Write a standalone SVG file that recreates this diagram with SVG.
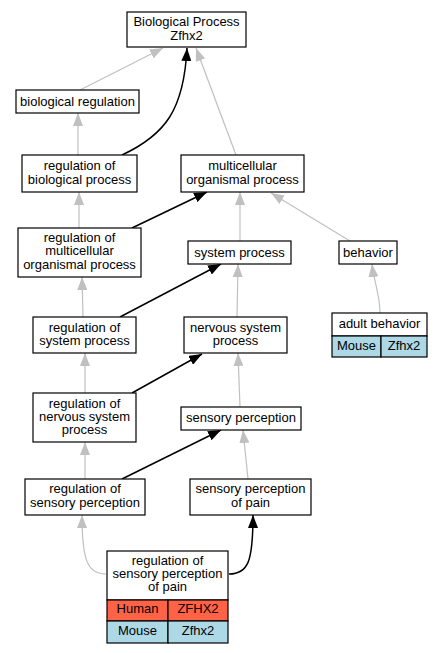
<svg xmlns="http://www.w3.org/2000/svg" width="441" height="653" viewBox="0 0 441 653">
<defs>
<style>
.n{fill:#fff;stroke:#000;stroke-width:1.2}
.h{fill:#ff6347;stroke:#000;stroke-width:1.2}
.m{fill:#add8e6;stroke:#000;stroke-width:1.2}
text{font-family:"Liberation Sans",Arial,sans-serif;font-size:13px;text-anchor:middle;fill:#000}
.g{fill:none;stroke:#c0c0c0;stroke-width:1.2}
.b{fill:none;stroke:#000;stroke-width:1.5}
</style>
<marker id="ag" viewBox="0 0 13 10" refX="13" refY="5" markerWidth="13" markerHeight="10" markerUnits="userSpaceOnUse" orient="auto"><path d="M0,0L13,5L0,10z" fill="#c0c0c0"/></marker>
<marker id="ab" viewBox="0 0 13 10" refX="13" refY="5" markerWidth="13" markerHeight="10" markerUnits="userSpaceOnUse" orient="auto"><path d="M0,0L13,5L0,10z" fill="#000"/></marker>
</defs>
<rect width="441" height="653" fill="#fff"/>
<g id="edges">
<path class="g" d="M80,90L163,48" marker-end="url(#ag)"/>
<path class="b" d="M122,155C165,135 184,110 187,48" marker-end="url(#ab)"/>
<path class="g" d="M236,155L196,48" marker-end="url(#ag)"/>
<path class="g" d="M78,155L78,113" marker-end="url(#ag)"/>
<path class="g" d="M79,228L79,192" marker-end="url(#ag)"/>
<path class="b" d="M132,228L207,192" marker-end="url(#ab)"/>
<path class="g" d="M240,241L240,192" marker-end="url(#ag)"/>
<path class="g" d="M350,241L271,193" marker-end="url(#ag)"/>
<path class="g" d="M83,317L82,277" marker-end="url(#ag)"/>
<path class="b" d="M120,317L221,264" marker-end="url(#ab)"/>
<path class="g" d="M237,317L238,264" marker-end="url(#ag)"/>
<path class="g" d="M380,313C380,295 374,282 372,264" marker-end="url(#ag)"/>
<path class="g" d="M85,393L85,353" marker-end="url(#ag)"/>
<path class="b" d="M132,393L202,354" marker-end="url(#ab)"/>
<path class="g" d="M240,407L238,353" marker-end="url(#ag)"/>
<path class="g" d="M85,479L85,442" marker-end="url(#ag)"/>
<path class="b" d="M122,479L221,430" marker-end="url(#ab)"/>
<path class="g" d="M248,479L243,430" marker-end="url(#ag)"/>
<path class="g" d="M106,574C88,574 82,562 82,515" marker-end="url(#ag)"/>
<path class="b" d="M229,574C248,574 253,562 253,515" marker-end="url(#ab)"/>
</g>
<g id="bp"><rect class="n" x="127" y="12" width="119" height="35"/><text x="186.5" y="26">Biological Process</text><text x="186.5" y="39.5">Zfhx2</text></g>
<g id="bioreg"><rect class="n" x="16" y="90" width="123" height="23"/><text x="77.5" y="106">biological regulation</text></g>
<g id="regbio"><rect class="n" x="22" y="155" width="115" height="37"/><text x="79.5" y="170">regulation of</text><text x="79.5" y="183.5">biological process</text></g>
<g id="multi"><rect class="n" x="181" y="155" width="123" height="37"/><text x="242.5" y="170">multicellular</text><text x="242.5" y="183.5">organismal process</text></g>
<g id="regmulti"><rect class="n" x="18" y="228" width="123" height="49"/><text x="79.5" y="242">regulation of</text><text x="79.5" y="255.3">multicellular</text><text x="79.5" y="268.6">organismal process</text></g>
<g id="sysproc"><rect class="n" x="188" y="241" width="103" height="23"/><text x="239.5" y="257">system process</text></g>
<g id="behavior"><rect class="n" x="339" y="241" width="58" height="23"/><text x="368" y="257">behavior</text></g>
<g id="regsys"><rect class="n" x="33" y="317" width="103" height="36"/><text x="84.5" y="331.5">regulation of</text><text x="84.5" y="345">system process</text></g>
<g id="nsp"><rect class="n" x="184" y="317" width="103" height="36"/><text x="235.5" y="331.5">nervous system</text><text x="235.5" y="345">process</text></g>
<g id="adult"><rect class="n" x="332" y="313" width="95" height="23"/><text x="379.5" y="327.5">adult behavior</text><rect class="m" x="332" y="336" width="49" height="21"/><text x="356.5" y="350">Mouse</text><rect class="m" x="381" y="336" width="46" height="21"/><text x="404" y="350">Zfhx2</text></g>
<g id="regnsp"><rect class="n" x="33" y="393" width="103" height="49"/><text x="84.5" y="407.5">regulation of</text><text x="84.5" y="420.8">nervous system</text><text x="84.5" y="434.1">process</text></g>
<g id="sensp"><rect class="n" x="181" y="407" width="120" height="23"/><text x="241" y="421.5">sensory perception</text></g>
<g id="regsensp"><rect class="n" x="25" y="479" width="120" height="36"/><text x="85" y="493">regulation of</text><text x="85" y="506.5">sensory perception</text></g>
<g id="senspain"><rect class="n" x="190" y="479" width="121" height="36"/><text x="250.5" y="493">sensory perception</text><text x="250.5" y="506.5">of pain</text></g>
<g id="regsenspain"><rect class="n" x="107" y="551" width="121" height="49"/><text x="167.5" y="565">regulation of</text><text x="167.5" y="578">sensory perception</text><text x="167.5" y="591">of pain</text><rect class="h" x="107" y="600" width="61" height="21"/><text x="137.5" y="613">Human</text><rect class="h" x="168" y="600" width="60" height="21"/><text x="198" y="613">ZFHX2</text><rect class="m" x="107" y="621" width="61" height="22"/><text x="137.5" y="635">Mouse</text><rect class="m" x="168" y="621" width="60" height="22"/><text x="198" y="635">Zfhx2</text></g>
</svg>
